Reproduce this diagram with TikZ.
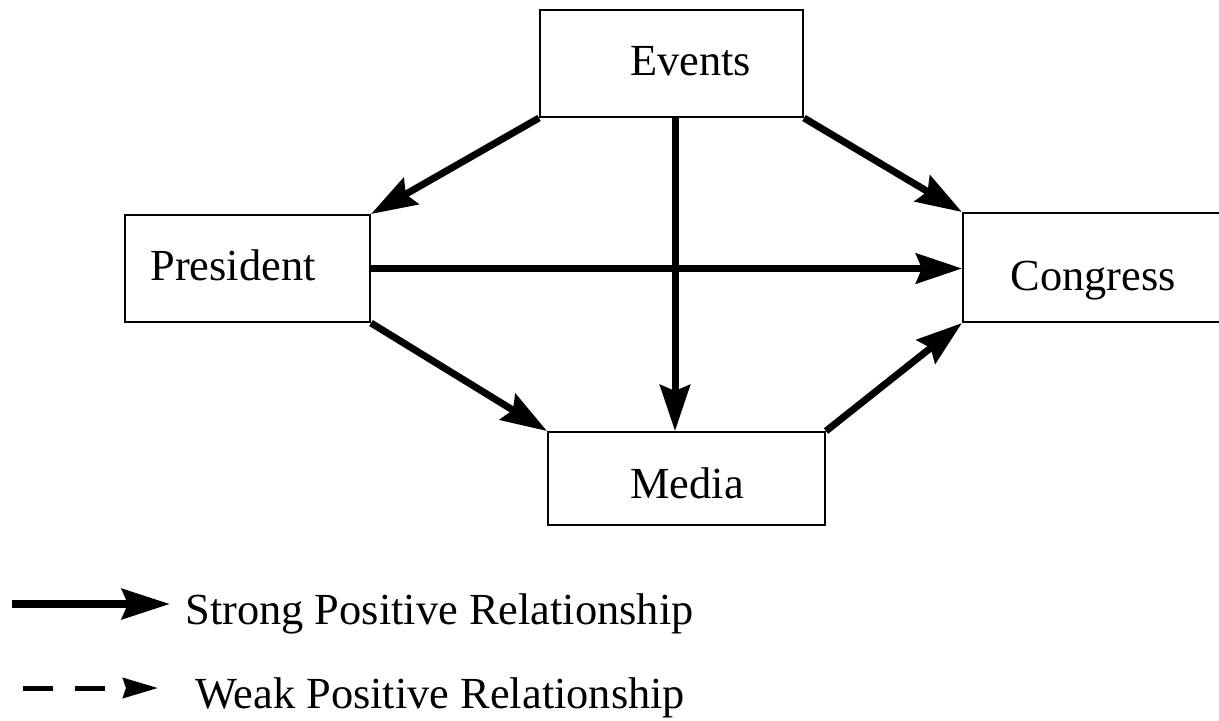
\documentclass[tikz,border=0pt]{standalone}
\usepackage{fontspec}
\setmainfont{Liberation Serif}
\usetikzlibrary{arrows.meta}
\begin{document}
\begin{tikzpicture}[x=0.5pt,y=-0.5pt,
  box/.style={draw,line width=1pt,rectangle,inner sep=0pt},
  txt/.style={inner sep=0pt,anchor=base west,font=\fontsize{22.2}{27}\selectfont},
  strong/.style={line width=3.5pt,-{Stealth[length=23pt,width=15pt,inset=3pt]}},
  strongleg/.style={line width=4pt,-{Stealth[length=24pt,width=15pt,inset=3pt]}},
  weakleg/.style={line width=2.5pt,dash pattern=on 15pt off 11pt,-{Stealth[length=17.5pt,width=10pt,inset=1.5pt]}}
]
\clip (0,0) rectangle (1219,720);
\fill[white] (0,0) rectangle (1219,720);
% boxes
\node[box,minimum width=131.5pt,minimum height=53.5pt] (Events) at (671.5,63.5) {};
\node[box,minimum width=122.5pt,minimum height=53.5pt] (President) at (247.5,268.5) {};
\node[box,minimum width=138.5pt,minimum height=54.5pt] (Congress) at (1101.5,267.5) {};
\node[box,minimum width=138.5pt,minimum height=46.5pt] (Media) at (686.5,478.5) {};
% labels
\node[txt] (EventsT) at (630,75) {Events};
\node[txt] (PresidentT) at (150,280) {President};
\node[txt] (CongressT) at (1010,290) {Congress};
\node[txt] (MediaT) at (630,498) {Media};
% connectors
\draw[strong] (Events.south west) -- (President.north east);
\draw[strong] (Events.south east) -- (Congress.north west);
\draw[strong] ([xshift=1.75pt]Events.south) -- ([xshift=1.75pt]Events.south |- Media.north);
\draw[strong] (President.east) -- (President.east -| Congress.west);
\draw[strong] (President.south east) -- (Media.north west);
\draw[strong] (Media.north east) -- (Congress.south west);
% legend
\coordinate (s1) at (12,604);
\coordinate (s2) at (170,604);
\draw[strongleg] (s1) -- (s2);
\node[txt] (StrongT) at (185,624) {Strong Positive Relationship};
\coordinate (w1) at (23,688);
\coordinate (w2) at (158,688);
\draw[weakleg] (w1) -- (w2);
\node[txt] (WeakT) at (195,708) {Weak Positive Relationship};
\end{tikzpicture}
\end{document}
